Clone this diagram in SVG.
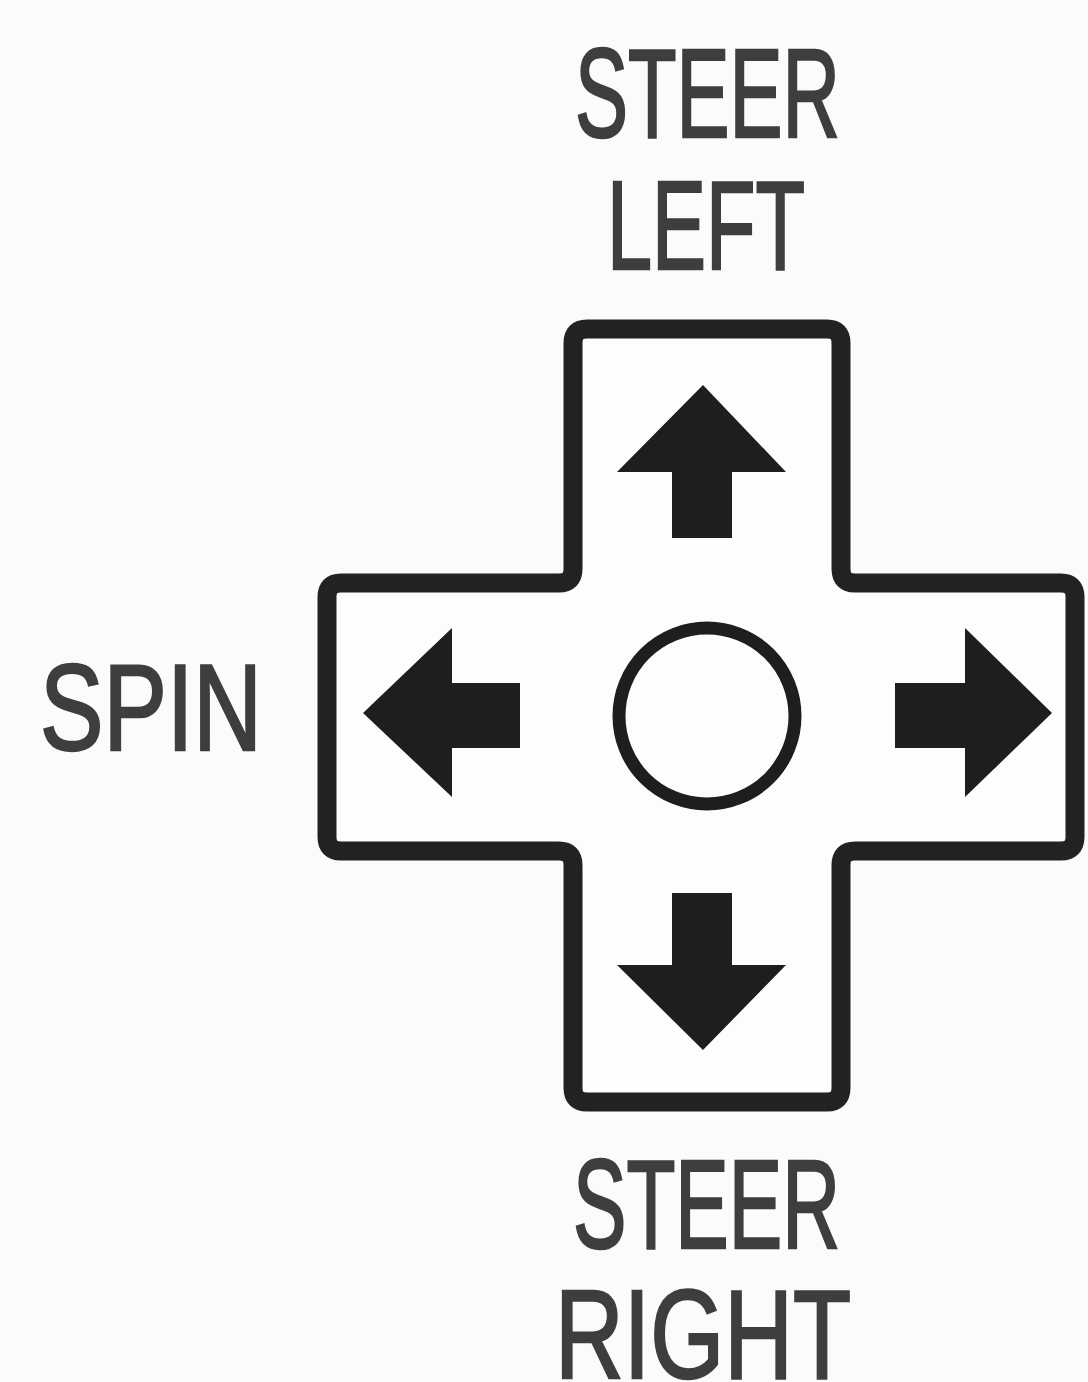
<svg xmlns="http://www.w3.org/2000/svg" width="1088" height="1382" viewBox="0 0 1088 1382">
<style>
.lbl{font-family:"Liberation Sans",Arial,sans-serif;font-size:127px;fill:#3e3e3e;stroke:#3e3e3e;stroke-width:2.5;}
.arrow{fill:#1e1e1e;}
</style>
<rect width="1088" height="1382" fill="#fbfbf9"/>
<g id="dpad">
<path d="M 587 329 H 827 Q 841 329 841 343 V 569 Q 841 583 855 583 H 1061 Q 1075 583 1075 597 V 837 Q 1075 851 1061 851 H 855 Q 841 851 841 865 V 1088 Q 841 1102 827 1102 H 587 Q 573 1102 573 1088 V 865 Q 573 851 559 851 H 341 Q 327 851 327 837 V 597 Q 327 583 341 583 H 559 Q 573 583 573 569 V 343 Q 573 329 587 329 Z" fill="#fdfdfc" stroke="#222" stroke-width="19" stroke-linejoin="round"/>
</g>
<g id="center">
<circle cx="707" cy="716" r="88" fill="none" stroke="#1e1e1e" stroke-width="13"/>
</g>
<g id="arrow-up"><path class="arrow" d="M 703 385 L 786 472 H 732 V 538 H 672 V 472 H 617 Z"/></g>
<g id="arrow-down"><path class="arrow" d="M 703 1050 L 786 965 H 732 V 893 H 672 V 965 H 617 Z"/></g>
<g id="arrow-left"><path class="arrow" d="M 363 713 L 452 628 V 683 H 520 V 748 H 452 V 797 Z"/></g>
<g id="arrow-right"><path class="arrow" d="M 1052 713 L 965 628 V 683 H 895 V 748 H 965 V 797 Z"/></g>
<g id="connectors"></g>
<g id="labels">
<text class="lbl" x="575" y="137" textLength="265" lengthAdjust="spacingAndGlyphs">STEER</text>
<text class="lbl" x="607" y="269" textLength="198" lengthAdjust="spacingAndGlyphs">LEFT</text>
<text class="lbl" x="40" y="750" style="font-size:122px" textLength="222" lengthAdjust="spacingAndGlyphs">SPIN</text>
<text class="lbl" x="573" y="1248" textLength="267" lengthAdjust="spacingAndGlyphs">STEER</text>
<text class="lbl" x="555" y="1378" textLength="296" lengthAdjust="spacingAndGlyphs">RIGHT</text>
</g>
</svg>
